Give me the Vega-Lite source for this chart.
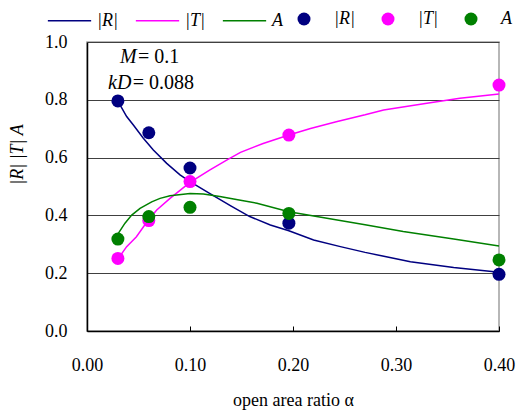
{
  "$schema": "https://vega.github.io/schema/vega-lite/v6.json",
  "width": 412,
  "height": 289,
  "autosize": {"type": "none"},
  "padding": {"left": 87, "top": 42, "right": 17, "bottom": 79},
  "background": "white",
  "config": {
    "font": "Times New Roman, Liberation Serif, DejaVu Serif, serif",
    "view": {"stroke": "#a0a0a0", "strokeWidth": 1.5},
    "legend": {"padding": 0, "titlePadding": 0}
  },
  "datasets": {
    "curves": [
      {"alpha": 0.0304, "value": 0.793, "curve": "|R|"},
      {"alpha": 0.0385, "value": 0.742, "curve": "|R|"},
      {"alpha": 0.045, "value": 0.713, "curve": "|R|"},
      {"alpha": 0.0547, "value": 0.667, "curve": "|R|"},
      {"alpha": 0.0644, "value": 0.626, "curve": "|R|"},
      {"alpha": 0.0774, "value": 0.58, "curve": "|R|"},
      {"alpha": 0.0903, "value": 0.54, "curve": "|R|"},
      {"alpha": 0.1, "value": 0.517, "curve": "|R|"},
      {"alpha": 0.119, "value": 0.476, "curve": "|R|"},
      {"alpha": 0.14, "value": 0.432, "curve": "|R|"},
      {"alpha": 0.158, "value": 0.396, "curve": "|R|"},
      {"alpha": 0.178, "value": 0.367, "curve": "|R|"},
      {"alpha": 0.196, "value": 0.347, "curve": "|R|"},
      {"alpha": 0.22, "value": 0.315, "curve": "|R|"},
      {"alpha": 0.246, "value": 0.292, "curve": "|R|"},
      {"alpha": 0.27, "value": 0.272, "curve": "|R|"},
      {"alpha": 0.314, "value": 0.24, "curve": "|R|"},
      {"alpha": 0.356, "value": 0.22, "curve": "|R|"},
      {"alpha": 0.4, "value": 0.203, "curve": "|R|"},

      {"alpha": 0.0304, "value": 0.251, "curve": "|T|"},
      {"alpha": 0.0385, "value": 0.292, "curve": "|T|"},
      {"alpha": 0.048, "value": 0.326, "curve": "|T|"},
      {"alpha": 0.0595, "value": 0.384, "curve": "|T|"},
      {"alpha": 0.0677, "value": 0.419, "curve": "|T|"},
      {"alpha": 0.0806, "value": 0.459, "curve": "|T|"},
      {"alpha": 0.1, "value": 0.514, "curve": "|T|"},
      {"alpha": 0.119, "value": 0.557, "curve": "|T|"},
      {"alpha": 0.136, "value": 0.592, "curve": "|T|"},
      {"alpha": 0.149, "value": 0.618, "curve": "|T|"},
      {"alpha": 0.171, "value": 0.649, "curve": "|T|"},
      {"alpha": 0.196, "value": 0.678, "curve": "|T|"},
      {"alpha": 0.217, "value": 0.701, "curve": "|T|"},
      {"alpha": 0.242, "value": 0.724, "curve": "|T|"},
      {"alpha": 0.27, "value": 0.748, "curve": "|T|"},
      {"alpha": 0.288, "value": 0.765, "curve": "|T|"},
      {"alpha": 0.33, "value": 0.788, "curve": "|T|"},
      {"alpha": 0.362, "value": 0.805, "curve": "|T|"},
      {"alpha": 0.4, "value": 0.82, "curve": "|T|"},

      {"alpha": 0.0304, "value": 0.338, "curve": "A"},
      {"alpha": 0.0369, "value": 0.373, "curve": "A"},
      {"alpha": 0.0434, "value": 0.401, "curve": "A"},
      {"alpha": 0.0515, "value": 0.424, "curve": "A"},
      {"alpha": 0.0628, "value": 0.447, "curve": "A"},
      {"alpha": 0.0709, "value": 0.459, "curve": "A"},
      {"alpha": 0.0806, "value": 0.468, "curve": "A"},
      {"alpha": 0.1, "value": 0.476, "curve": "A"},
      {"alpha": 0.113, "value": 0.474, "curve": "A"},
      {"alpha": 0.129, "value": 0.465, "curve": "A"},
      {"alpha": 0.145, "value": 0.455, "curve": "A"},
      {"alpha": 0.165, "value": 0.442, "curve": "A"},
      {"alpha": 0.196, "value": 0.413, "curve": "A"},
      {"alpha": 0.223, "value": 0.396, "curve": "A"},
      {"alpha": 0.27, "value": 0.368, "curve": "A"},
      {"alpha": 0.307, "value": 0.344, "curve": "A"},
      {"alpha": 0.356, "value": 0.318, "curve": "A"},
      {"alpha": 0.4, "value": 0.294, "curve": "A"}
    ],
    "measured": [
      {"alpha": 0.03, "value": 0.796, "measure": "|R| "},
      {"alpha": 0.06, "value": 0.686, "measure": "|R| "},
      {"alpha": 0.1, "value": 0.564, "measure": "|R| "},
      {"alpha": 0.196, "value": 0.373, "measure": "|R| "},
      {"alpha": 0.4, "value": 0.196, "measure": "|R| "},
      {"alpha": 0.03, "value": 0.251, "measure": "|T| "},
      {"alpha": 0.06, "value": 0.382, "measure": "|T| "},
      {"alpha": 0.1, "value": 0.517, "measure": "|T| "},
      {"alpha": 0.196, "value": 0.678, "measure": "|T| "},
      {"alpha": 0.4, "value": 0.851, "measure": "|T| "},
      {"alpha": 0.03, "value": 0.318, "measure": "A "},
      {"alpha": 0.06, "value": 0.396, "measure": "A "},
      {"alpha": 0.1, "value": 0.428, "measure": "A "},
      {"alpha": 0.196, "value": 0.407, "measure": "A "},
      {"alpha": 0.4, "value": 0.246, "measure": "A "}
    ],
    "notes": [
      {"alpha": 0.032, "value": 0.948, "text": "M", "style": "italic"},
      {"alpha": 0.0495, "value": 0.948, "text": "= 0.1", "style": "roman"},
      {"alpha": 0.0204, "value": 0.858, "text": "kD", "style": "italic"},
      {"alpha": 0.0445, "value": 0.858, "text": "= 0.088", "style": "roman"}
    ]
  },
  "encoding": {
    "x": {
      "field": "alpha",
      "type": "quantitative",
      "scale": {"domain": [0, 0.4], "nice": false},
      "axis": {
        "title": "open area ratio  α",
        "titleFontSize": 18,
        "titleFontWeight": "normal",
        "titleColor": "black",
        "titleBaseline": "alphabetic",
        "titleY": 74,
        "values": [0, 0.1, 0.2, 0.3, 0.4],
        "format": ".2f",
        "labelFontSize": 18,
        "labelColor": "black",
        "labelBaseline": "alphabetic",
        "labelPadding": 44,
        "labelFlush": false,
        "grid": false,
        "domainColor": "black",
        "domainWidth": 1.5,
        "tickColor": "black",
        "tickWidth": 1,
        "tickSize": -5
      }
    },
    "y": {
      "field": "value",
      "type": "quantitative",
      "scale": {"domain": [0, 1], "nice": false},
      "axis": {
        "title": "|R| |T| A",
        "titleFontSize": 18,
        "titleFontStyle": "italic",
        "titleFontWeight": "normal",
        "titleColor": "black",
        "titleAngle": 270,
        "titleAlign": "center",
        "titleBaseline": "alphabetic",
        "titleX": -65,
        "titleY": 112,
        "values": [0, 0.2, 0.4, 0.6, 0.8, 1.0],
        "format": ".1f",
        "labelFontSize": 18,
        "labelColor": "black",
        "labelBaseline": "middle",
        "labelPadding": 20,
        "labelFlush": false,
        "ticks": false,
        "grid": true,
        "gridColor": "#404040",
        "gridWidth": 1,
        "domainColor": "black",
        "domainWidth": 1.5
      }
    }
  },
  "layer": [
    {
      "data": {"name": "curves"},
      "mark": {"type": "line", "strokeWidth": 1.5},
      "encoding": {
        "stroke": {
          "field": "curve",
          "type": "nominal",
          "scale": {"domain": ["|R|", "|T|", "A"], "range": ["#000080", "#ff00ff", "#008000"]},
          "legend": {
            "title": null,
            "orient": "none",
            "direction": "horizontal",
            "legendX": -40,
            "legendY": -44,
            "symbolType": "stroke",
            "symbolSize": 1875,
            "symbolStrokeWidth": 1.5,
            "labelFontStyle": "italic",
            "labelFontSize": 18,
            "labelColor": "black",
            "labelOffset": 5,
            "columnPadding": 14
          }
        }
      }
    },
    {
      "data": {"name": "measured"},
      "mark": {"type": "circle", "size": 169, "opacity": 1},
      "encoding": {
        "fill": {
          "field": "measure",
          "type": "nominal",
          "scale": {"domain": ["|R| ", "|T| ", "A "], "range": ["#000080", "#ff00ff", "#008000"]},
          "legend": {
            "title": null,
            "orient": "none",
            "direction": "horizontal",
            "legendX": 208,
            "legendY": -32,
            "symbolType": "circle",
            "symbolSize": 169,
            "symbolOpacity": 1,
            "symbolStrokeWidth": 0,
            "labelFontStyle": "italic",
            "labelFontSize": 18,
            "labelColor": "black",
            "labelOffset": 21,
            "columnPadding": 24
          }
        }
      }
    },
    {
      "data": {"name": "notes"},
      "transform": [{"filter": "datum.style === 'italic'"}],
      "mark": {"type": "text", "align": "left", "baseline": "middle", "fontSize": 20, "fontStyle": "italic", "color": "black"},
      "encoding": {"text": {"field": "text"}}
    },
    {
      "data": {"name": "notes"},
      "transform": [{"filter": "datum.style === 'roman'"}],
      "mark": {"type": "text", "align": "left", "baseline": "middle", "fontSize": 20, "color": "black"},
      "encoding": {"text": {"field": "text"}}
    }
  ]
}
